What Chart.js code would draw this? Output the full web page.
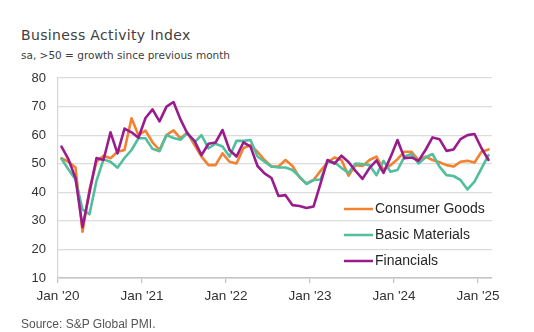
<!DOCTYPE html>
<html><head><meta charset="utf-8">
<script src="https://cdn.jsdelivr.net/npm/chart.js@4.4.1/dist/chart.umd.min.js"></script>
<style>
html,body{margin:0;padding:0;background:#fff;}
#wrap{position:relative;width:534px;height:332px;overflow:hidden;font-family:"Liberation Sans",Arial,sans-serif;}
.t{position:absolute;white-space:nowrap;}
#title{left:21px;top:28px;font-family:"DejaVu Sans",sans-serif;font-size:14px;line-height:14px;letter-spacing:0.35px;color:#404040;}
#sub{left:21px;top:49px;font-family:"DejaVu Sans",sans-serif;font-size:10.5px;line-height:12px;color:#404040;}
#src{left:21px;top:318px;font-size:12px;line-height:12px;color:#555;}
canvas{position:absolute;left:0;top:0;}
</style></head>
<body><div id="wrap">
<div class="t" id="title">Business Activity Index</div>
<div class="t" id="sub">sa, &gt;50 = growth since previous month</div>
<canvas id="c" width="534" height="332"></canvas>
<div class="t" id="src">Source: S&amp;P Global PMI.</div>
</div>
<script>
const months = ["2020-01","2020-02","2020-03","2020-04","2020-05","2020-06","2020-07","2020-08","2020-09","2020-10","2020-11","2020-12",
"2021-01","2021-02","2021-03","2021-04","2021-05","2021-06","2021-07","2021-08","2021-09","2021-10","2021-11","2021-12",
"2022-01","2022-02","2022-03","2022-04","2022-05","2022-06","2022-07","2022-08","2022-09","2022-10","2022-11","2022-12",
"2023-01","2023-02","2023-03","2023-04","2023-05","2023-06","2023-07","2023-08","2023-09","2023-10","2023-11","2023-12",
"2024-01","2024-02","2024-03","2024-04","2024-05","2024-06","2024-07","2024-08","2024-09","2024-10","2024-11","2024-12",
"2025-01","2025-02"];
const consumerGoods = [51.9,50.7,48.7,26.2,41,50.7,52.8,51.9,54.2,54.8,65.9,60,61.6,57.5,54.8,60,61.7,58.9,60.9,56.5,52.5,49.5,49.5,53.6,50.7,50.1,55.5,56.5,54.2,51.3,49,49,51.3,49.2,45.2,43.1,44.3,47.5,50.4,52.2,51.3,45.8,49.5,49.2,51.3,52.5,47.8,49.5,51.6,54.2,54.2,51.3,52.5,51.3,50.5,49.5,49,50.7,51,50.4,54.2,55];
const basicMaterials = [51.7,48,44.5,34,32.3,44,51.5,50.7,48.6,52,54.8,58.9,58.9,55.2,54.4,60,59,58.4,60.8,57.5,60,55.4,57,56,52.5,58,58,58.3,52.5,50.7,49,48.7,48.7,47.8,45.5,42.9,44.3,44.5,50.7,50.5,48.5,46.8,50.1,49.9,49.5,46,51,47.2,47.8,52.5,53.4,50.1,52.2,53.4,49,46,45.7,44.3,41,43.7,48.4,53];
const financials = [56,51.5,45,27.8,40,52,51.3,61,53.6,62.3,61,59.1,66,69,64.8,70,71.6,65.5,60.5,58,53,57,57.4,61.8,54.8,52.5,57.5,56,49.2,46.6,45,38.7,39,35.5,35.2,34.5,35,43,51.3,50,52.8,50.6,47.5,44.7,48.5,51.2,46.8,52.3,58.3,51.9,52.2,51,54.8,59.2,58.6,54.5,55,58.6,60,60.4,55.4,51.3];
const seriesNames = ["Consumer Goods","Basic Materials","Financials"];
const seriesColors = ["#F28130","#52BE9E","#9A1C8C"];
const tickLabels = ["Jan '20","Jan '21","Jan '22","Jan '23","Jan '24","Jan '25"];
const yTicks = [10,20,30,40,50,60,70,80];

const tickIdx = months.map((m,i)=>m.endsWith("-01")?i:-1).filter(i=>i>=0);
const toPts = arr => arr.map((v,i)=>({x:i+0.5,y:v}));

const legendPlugin = {
  id:'customLegend',
  afterDatasetsDraw(chart){
    const ctx = chart.ctx, a = chart.chartArea;
    ctx.save();
    ctx.font = '14px "Liberation Sans", Arial, sans-serif';
    ctx.textBaseline = 'middle';
    const x0 = a.right - 148;
    seriesNames.forEach((n,k)=>{
      const y = 209 + k*26;
      ctx.strokeStyle = seriesColors[k];
      ctx.lineWidth = 2.5;
      ctx.beginPath(); ctx.moveTo(x0,y); ctx.lineTo(x0+29,y); ctx.stroke();
      ctx.fillStyle = '#262626';
      ctx.fillText(n, x0+31, y);
    });
    ctx.restore();
  }
};

const mk = (k, data, order) => ({
  label: seriesNames[k], data: toPts(data), borderColor: seriesColors[k],
  backgroundColor: seriesColors[k], borderWidth: 2.6, pointRadius: 0,
  tension: 0, borderJoinStyle: 'round', borderCapStyle: 'round', order
});

new Chart(document.getElementById('c'), {
  type: 'line',
  data: { datasets: [mk(0, consumerGoods, 3), mk(1, basicMaterials, 2), mk(2, financials, 1)] },
  options: {
    responsive: false, animation: false, devicePixelRatio: 1,
    layout: { padding: { left: 0, right: 42, top: 78, bottom: 0 } },
    plugins: { legend: { display: false }, tooltip: { enabled: false } },
    scales: {
      x: {
        type: 'linear', min: 0, max: 62,
        afterBuildTicks: s => { s.ticks = tickIdx.map(v=>({value:v})); },
        afterFit: s => { s.height = 54; },
        ticks: { autoSkip: false, maxRotation: 0, padding: 5, color: '#333',
          font: { family: '"Liberation Sans", Arial, sans-serif', size: 13.5 },
          callback: (v) => tickLabels[tickIdx.indexOf(v)] },
        grid: { drawOnChartArea: false, drawTicks: true, tickLength: 5, color: '#c4c4c4', lineWidth: 1.2 },
        border: { display: true, color: '#c4c4c4', width: 1.5 }
      },
      y: {
        min: 10, max: 80,
        afterBuildTicks: s => { s.ticks = yTicks.map(v=>({value:v})); },
        afterFit: s => { s.width = 58; },
        ticks: { padding: 12, color: '#333',
          font: { family: '"Liberation Sans", Arial, sans-serif', size: 13 } },
        grid: { drawTicks: false, color: '#dcdcdc', lineWidth: 1.2 },
        border: { display: true, color: '#d6d6d6', width: 1.2 }
      }
    }
  },
  plugins: [legendPlugin]
});
</script>
</body></html>
